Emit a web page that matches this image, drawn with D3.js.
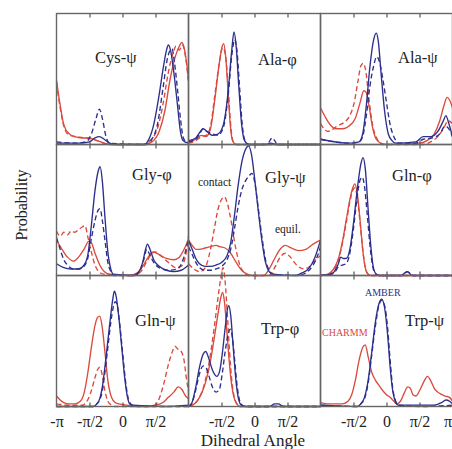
<!DOCTYPE html>
<html><head><meta charset="utf-8">
<script src="https://cdn.jsdelivr.net/npm/d3@7"></script>
<style>body{margin:0;background:#fff}svg{display:block}</style>
</head><body><div id="c"></div>
<script>
// ---- data (x: dihedral angle in degrees, y: relative probability) ----
const tickValues = [-180, -90, 0, 90, 180];
const tickLabels = ["-π", "-π/2", "0", "π/2", "π"];
const panelNames = ["Cys-ψ", "Ala-φ", "Ala-ψ", "Gly-φ", "Gly-ψ", "Gln-φ", "Gln-ψ", "Trp-φ", "Trp-ψ"];

const cysPsi_charmmEq = [[-180,0.49],[-170,0.3],[-160,0.15],[-145,0.08],[-130,0.06],[-110,0.05],[-90,0.05],[-70,0.03],[-50,0.01],[-30,0],[60,0],[80,0.02],[100,0.1],[115,0.25],[130,0.5],[145,0.68],[155,0.75],[162,0.78],[168,0.74],[175,0.62],[180,0.5]];
const cysPsi_charmmCt = [[-180,0.47],[-170,0.28],[-160,0.14],[-145,0.07],[-125,0.06],[-100,0.05],[-80,0.04],[-60,0.02],[-40,0],[55,0],[75,0.03],[95,0.12],[110,0.3],[125,0.55],[138,0.7],[146,0.75],[155,0.72],[163,0.76],[170,0.7],[176,0.58],[180,0.47]];
const cysPsi_amberEq = [[-180,0.01],[-120,0.01],[-90,0.02],[-75,0.05],[-63,0.06],[-50,0.04],[-35,0.01],[-20,0],[60,0],[70,0.03],[85,0.15],[100,0.38],[112,0.6],[120,0.72],[125,0.76],[131,0.72],[140,0.55],[150,0.3],[158,0.1],[165,0.03],[180,0.01]];
const cysPsi_amberCt = [[-180,0.02],[-130,0.01],[-100,0.02],[-85,0.08],[-72,0.2],[-63,0.27],[-55,0.2],[-45,0.06],[-35,0.01],[65,0],[80,0.04],[95,0.15],[110,0.42],[122,0.65],[130,0.72],[135,0.73],[142,0.62],[150,0.42],[158,0.2],[166,0.05],[175,0.02],[180,0.02]];

const alaPhi_charmmEq = [[-180,0.02],[-160,0.04],[-145,0.07],[-132,0.06],[-120,0.12],[-108,0.35],[-97,0.6],[-88,0.75],[-84,0.77],[-78,0.65],[-72,0.4],[-66,0.15],[-60,0.03],[-50,0],[180,0]];
const alaPhi_charmmCt = [[-180,0.01],[-160,0.03],[-145,0.06],[-132,0.07],[-120,0.14],[-108,0.38],[-96,0.62],[-87,0.74],[-82,0.72],[-76,0.6],[-70,0.35],[-64,0.12],[-58,0.02],[-50,0],[180,0]];
const alaPhi_amberEq = [[-180,0.03],[-160,0.05],[-150,0.09],[-140,0.12],[-130,0.1],[-115,0.07],[-100,0.08],[-85,0.15],[-72,0.4],[-62,0.72],[-56,0.86],[-50,0.75],[-43,0.45],[-35,0.15],[-27,0.03],[-15,0],[30,0],[45,0.01],[60,0],[180,0]];
const alaPhi_amberCt = [[-180,0.02],[-160,0.04],[-150,0.08],[-140,0.12],[-130,0.1],[-115,0.08],[-100,0.07],[-85,0.13],[-72,0.37],[-62,0.68],[-54,0.8],[-48,0.72],[-41,0.45],[-34,0.17],[-26,0.03],[-15,0],[35,0],[42,0.03],[48,0.05],[55,0.03],[62,0],[180,0]];

const alaPsi_charmmEq = [[-180,0.28],[-165,0.2],[-150,0.14],[-139,0.12],[-120,0.12],[-103,0.14],[-85,0.2],[-72,0.32],[-62,0.41],[-56,0.4],[-48,0.3],[-38,0.13],[-28,0.04],[-15,0.01],[0,0],[90,0.01],[110,0.03],[130,0.08],[145,0.18],[157,0.3],[165,0.36],[172,0.34],[180,0.28]];
const alaPsi_charmmCt = [[-180,0.16],[-170,0.12],[-160,0.1],[-150,0.11],[-135,0.14],[-115,0.17],[-100,0.22],[-88,0.32],[-78,0.48],[-70,0.6],[-63,0.62],[-56,0.55],[-48,0.35],[-38,0.15],[-25,0.04],[-10,0],[100,0],[120,0.02],[140,0.06],[155,0.12],[168,0.18],[180,0.16]];
const alaPsi_amberEq = [[-180,0.04],[-100,0.01],[-75,0.02],[-65,0.08],[-55,0.3],[-45,0.6],[-35,0.8],[-28,0.85],[-22,0.78],[-15,0.55],[-5,0.25],[5,0.08],[15,0.03],[25,0.01],[80,0.02],[100,0.06],[120,0.06],[140,0.1],[155,0.18],[162,0.22],[170,0.16],[180,0.06]];
const alaPsi_amberCt = [[-180,0.04],[-100,0.01],[-75,0.02],[-65,0.06],[-55,0.22],[-45,0.45],[-35,0.6],[-27,0.67],[-20,0.64],[-10,0.5],[0,0.32],[10,0.15],[20,0.06],[35,0.01],[80,0.01],[100,0.04],[125,0.05],[145,0.08],[160,0.14],[170,0.12],[180,0.06]];

const glyPhi_charmmEq = [[-180,0.27],[-165,0.2],[-150,0.14],[-134,0.11],[-120,0.14],[-105,0.2],[-92,0.26],[-85,0.25],[-75,0.17],[-62,0.08],[-50,0.03],[-35,0.01],[20,0],[40,0.02],[55,0.07],[70,0.14],[84,0.18],[100,0.16],[120,0.13],[140,0.12],[155,0.14],[168,0.2],[180,0.28]];
const glyPhi_charmmCt = [[-180,0.34],[-170,0.3],[-160,0.33],[-150,0.31],[-140,0.34],[-130,0.33],[-120,0.35],[-110,0.37],[-102,0.38],[-95,0.3],[-85,0.18],[-75,0.08],[-65,0.03],[-50,0.01],[30,0],[50,0.03],[65,0.1],[78,0.16],[89,0.18],[105,0.15],[125,0.1],[145,0.06],[160,0.07],[172,0.15],[180,0.3]];
const glyPhi_amberEq = [[-180,0.09],[-160,0.06],[-140,0.05],[-120,0.05],[-105,0.08],[-95,0.15],[-85,0.38],[-75,0.65],[-66,0.8],[-61,0.83],[-55,0.72],[-48,0.45],[-40,0.18],[-32,0.05],[-25,0.01],[30,0],[45,0.03],[55,0.1],[62,0.19],[68,0.24],[75,0.2],[85,0.12],[100,0.07],[120,0.04],[140,0.03],[160,0.04],[180,0.08]];
const glyPhi_amberCt = [[-180,0.29],[-170,0.2],[-160,0.12],[-150,0.08],[-134,0.05],[-120,0.05],[-105,0.07],[-95,0.13],[-85,0.28],[-75,0.42],[-66,0.5],[-61,0.51],[-55,0.42],[-47,0.25],[-40,0.1],[-32,0.03],[-25,0],[35,0],[48,0.04],[58,0.12],[66,0.2],[74,0.16],[85,0.1],[100,0.06],[125,0.04],[150,0.05],[165,0.12],[180,0.28]];

const glyPsi_charmmEq = [[-180,0.27],[-170,0.23],[-160,0.2],[-150,0.2],[-135,0.21],[-120,0.22],[-105,0.23],[-95,0.22],[-80,0.21],[-65,0.17],[-50,0.1],[-35,0.04],[-20,0.01],[-5,0],[25,0],[40,0.05],[55,0.13],[70,0.2],[84,0.23],[100,0.21],[120,0.19],[140,0.2],[160,0.24],[180,0.27]];
const glyPsi_charmmCt = [[-180,0.09],[-165,0.05],[-150,0.03],[-140,0.04],[-130,0.09],[-120,0.2],[-110,0.35],[-100,0.5],[-90,0.58],[-82,0.6],[-74,0.55],[-64,0.42],[-52,0.22],[-40,0.08],[-28,0.02],[-16,0],[40,0],[55,0.06],[70,0.14],[84,0.17],[98,0.14],[115,0.08],[135,0.05],[155,0.08],[170,0.13],[180,0.15]];
const glyPsi_amberEq = [[-180,0.27],[-170,0.2],[-160,0.13],[-150,0.09],[-135,0.07],[-120,0.07],[-105,0.08],[-90,0.1],[-75,0.15],[-65,0.25],[-55,0.45],[-45,0.68],[-35,0.86],[-25,0.96],[-16,0.99],[-8,0.92],[0,0.75],[10,0.5],[20,0.27],[30,0.1],[40,0.03],[50,0.01],[110,0],[130,0.02],[150,0.06],[165,0.14],[180,0.27]];
const glyPsi_amberCt = [[-180,0.22],[-170,0.16],[-160,0.1],[-150,0.06],[-135,0.04],[-120,0.04],[-105,0.05],[-90,0.07],[-75,0.12],[-65,0.2],[-55,0.35],[-45,0.52],[-35,0.65],[-25,0.72],[-15,0.76],[-7,0.78],[0,0.72],[10,0.52],[20,0.3],[30,0.12],[40,0.04],[50,0.01],[120,0],[140,0.02],[160,0.08],[172,0.15],[180,0.22]];

const glnPhi_charmmEq = [[-180,0],[-160,0.01],[-150,0.03],[-140,0.07],[-130,0.14],[-120,0.26],[-110,0.42],[-100,0.58],[-92,0.67],[-86,0.7],[-80,0.63],[-72,0.42],[-65,0.2],[-58,0.06],[-50,0.01],[-40,0],[180,0]];
const glnPhi_charmmCt = [[-180,0],[-160,0.01],[-150,0.02],[-140,0.06],[-130,0.13],[-120,0.25],[-110,0.4],[-100,0.56],[-92,0.65],[-86,0.67],[-80,0.6],[-72,0.4],[-64,0.18],[-57,0.05],[-50,0.01],[-40,0],[180,0]];
const glnPhi_amberEq = [[-180,0],[-150,0.01],[-140,0.04],[-130,0.1],[-125,0.14],[-118,0.13],[-110,0.13],[-100,0.2],[-90,0.4],[-80,0.65],[-70,0.85],[-64,0.9],[-58,0.82],[-50,0.5],[-42,0.2],[-35,0.05],[-28,0.01],[-20,0],[40,0],[50,0.02],[56,0.03],[62,0.02],[70,0],[180,0]];
const glnPhi_amberCt = [[-180,0],[-150,0.01],[-140,0.03],[-130,0.07],[-120,0.08],[-110,0.09],[-100,0.17],[-90,0.36],[-80,0.6],[-72,0.73],[-66,0.75],[-60,0.68],[-52,0.45],[-44,0.2],[-36,0.05],[-28,0.01],[-20,0],[45,0],[52,0.02],[58,0.03],[65,0.01],[75,0],[180,0]];

const glnPsi_charmmEq = [[-180,0.08],[-170,0.05],[-160,0.03],[-145,0.02],[-130,0.02],[-115,0.04],[-105,0.1],[-95,0.25],[-85,0.45],[-75,0.62],[-68,0.68],[-62,0.69],[-56,0.62],[-48,0.42],[-40,0.2],[-30,0.07],[-20,0.03],[-10,0.02],[10,0.01],[60,0],[90,0.01],[110,0.03],[125,0.07],[140,0.11],[152,0.15],[162,0.13],[172,0.08],[180,0.06]];
const glnPsi_charmmCt = [[-180,0.02],[-140,0.01],[-110,0.01],[-95,0.05],[-85,0.12],[-75,0.22],[-68,0.28],[-62,0.3],[-56,0.25],[-48,0.12],[-40,0.04],[-30,0.01],[-20,0],[80,0],[95,0.03],[105,0.1],[115,0.2],[125,0.32],[135,0.41],[143,0.46],[150,0.44],[160,0.42],[168,0.35],[175,0.2],[180,0.12]];
const glnPsi_amberEq = [[-180,0],[-80,0],[-70,0.02],[-62,0.06],[-55,0.15],[-48,0.3],[-40,0.5],[-32,0.7],[-26,0.83],[-22,0.88],[-18,0.85],[-10,0.68],[-2,0.45],[6,0.22],[13,0.08],[20,0.02],[30,0.01],[120,0],[180,0.01]];
const glnPsi_amberCt = [[-180,0],[-80,0],[-70,0.02],[-62,0.05],[-55,0.12],[-48,0.26],[-40,0.45],[-32,0.64],[-25,0.76],[-20,0.8],[-15,0.78],[-8,0.64],[0,0.42],[8,0.2],[15,0.07],[22,0.02],[30,0],[180,0]];

const trpPhi_charmmEq = [[-180,0],[-170,0.01],[-160,0.03],[-150,0.07],[-140,0.13],[-130,0.22],[-120,0.35],[-110,0.52],[-100,0.7],[-92,0.83],[-87,0.87],[-82,0.8],[-76,0.6],[-70,0.38],[-63,0.18],[-56,0.07],[-48,0.02],[-40,0],[180,0]];
const trpPhi_charmmCt = [[-180,0],[-170,0.01],[-160,0.03],[-150,0.07],[-140,0.14],[-130,0.25],[-120,0.4],[-110,0.6],[-100,0.82],[-92,0.98],[-86,1.06],[-80,0.95],[-74,0.7],[-68,0.42],[-62,0.2],[-55,0.07],[-48,0.02],[-40,0],[180,0]];
const trpPhi_amberEq = [[-180,0],[-172,0.02],[-160,0.15],[-150,0.3],[-140,0.4],[-133,0.42],[-125,0.37],[-115,0.28],[-103,0.23],[-95,0.27],[-88,0.4],[-80,0.6],[-74,0.74],[-70,0.77],[-65,0.7],[-58,0.45],[-50,0.18],[-43,0.05],[-36,0.01],[-25,0],[40,0],[55,0.02],[65,0.02],[80,0],[180,0]];
const trpPhi_amberCt = [[-180,0],[-170,0.03],[-160,0.13],[-150,0.25],[-140,0.31],[-133,0.3],[-125,0.24],[-115,0.15],[-105,0.11],[-96,0.13],[-88,0.25],[-80,0.42],[-72,0.55],[-66,0.59],[-60,0.52],[-54,0.35],[-47,0.15],[-40,0.04],[-33,0.01],[-25,0],[180,0]];

const trpPsi_charmmEq = [[-180,0.03],[-160,0.02],[-140,0.02],[-120,0.02],[-105,0.04],[-95,0.09],[-85,0.2],[-75,0.35],[-65,0.45],[-58,0.47],[-50,0.38],[-40,0.26],[-30,0.2],[-20,0.16],[-10,0.12],[0,0.09],[10,0.07],[20,0.04],[28,0.02],[38,0.04],[48,0.1],[58,0.15],[65,0.14],[72,0.09],[80,0.08],[90,0.12],[102,0.19],[112,0.23],[120,0.2],[132,0.13],[145,0.1],[160,0.08],[172,0.07],[180,0.04]];
const trpPsi_charmmCt = [];
const trpPsi_amberEq = [[-180,0.01],[-80,0],[-70,0.02],[-60,0.07],[-50,0.2],[-40,0.42],[-30,0.65],[-20,0.79],[-13,0.82],[-5,0.75],[3,0.55],[10,0.3],[17,0.12],[24,0.04],[32,0.01],[100,0.01],[130,0.01],[150,0.03],[162,0.05],[172,0.04],[180,0.02]];
const trpPsi_amberCt = [[-180,0.01],[-80,0],[-70,0.02],[-60,0.06],[-50,0.18],[-40,0.4],[-30,0.62],[-20,0.78],[-13,0.81],[-5,0.77],[3,0.6],[10,0.35],[17,0.14],[24,0.05],[32,0.01],[100,0],[180,0.01]];

// ---- table built from the arrays ----
const panels = [
  [cysPsi_charmmEq, cysPsi_charmmCt, cysPsi_amberEq, cysPsi_amberCt],
  [alaPhi_charmmEq, alaPhi_charmmCt, alaPhi_amberEq, alaPhi_amberCt],
  [alaPsi_charmmEq, alaPsi_charmmCt, alaPsi_amberEq, alaPsi_amberCt],
  [glyPhi_charmmEq, glyPhi_charmmCt, glyPhi_amberEq, glyPhi_amberCt],
  [glyPsi_charmmEq, glyPsi_charmmCt, glyPsi_amberEq, glyPsi_amberCt],
  [glnPhi_charmmEq, glnPhi_charmmCt, glnPhi_amberEq, glnPhi_amberCt],
  [glnPsi_charmmEq, glnPsi_charmmCt, glnPsi_amberEq, glnPsi_amberCt],
  [trpPhi_charmmEq, trpPhi_charmmCt, trpPhi_amberEq, trpPhi_amberCt],
  [trpPsi_charmmEq, trpPsi_charmmCt, trpPsi_amberEq, trpPsi_amberCt]
].map((s, i) => ({ name: panelNames[i], series: s }));

// ---- layout ----
const RED = "#da4a3e", BLUE = "#2c2f8c";
const styles = [
  { color: RED, dash: null },
  { color: RED, dash: "5,3" },
  { color: BLUE, dash: null },
  { color: BLUE, dash: "5,3" }
];
const W = 132, H = 131;
const colX = [56.5, 188.5, 320.5];
const rowY = [13.5, 144.5, 275.5];
const labelPos = [[95,63],[258,65],[398,63],[132,180],[265,183],[392,181],[135,326],[261,334],[405,326]];
const FONT = "'Liberation Serif','Times New Roman',serif";

const svg = d3.select("#c").append("svg").attr("width", 452).attr("height", 449);
const x = d3.scaleLinear().domain([-180, 180]).range([0, W]);
const y = d3.scaleLinear().domain([0, 1]).range([H, 0]);
const line = d3.line().x(d => x(d[0])).y(d => y(d[1])).curve(d3.curveMonotoneX);

panels.forEach((p, i) => {
  const c = i % 3, r = Math.floor(i / 3);
  const g = svg.append("g").attr("transform", `translate(${colX[c]},${rowY[r]})`);
  g.selectAll("path.s").data(p.series).join("path")
    .attr("class", "s")
    .attr("d", d => d.length ? line(d) : null)
    .attr("fill", "none")
    .attr("stroke", (d, k) => styles[k].color)
    .attr("stroke-width", 1.35)
    .attr("stroke-dasharray", (d, k) => styles[k].dash);
  // inward ticks
  const bAx = g.append("g").attr("transform", `translate(0,${H})`)
    .call(d3.axisBottom(x).tickValues([-90, 0, 90]).tickSize(-4).tickFormat(""));
  const tAx = g.append("g")
    .call(d3.axisTop(x).tickValues([-90, 0, 90]).tickSize(-4).tickFormat(""));
  [bAx, tAx].forEach(a => { a.select(".domain").remove(); a.selectAll("line").attr("stroke", "#555").attr("stroke-width", 1.2); });
  g.append("rect").attr("width", W).attr("height", H)
    .attr("fill", "none").attr("stroke", "#666").attr("stroke-width", 1.4);
  svg.append("text").attr("x", labelPos[i][0]).attr("y", labelPos[i][1])
    .attr("font-family", FONT).attr("font-size", 16.5).attr("fill", "#222").text(p.name);
});

// bottom tick labels
const labelTicks = [[-180, -90, 0, 90], [-90, 0, 90], [-90, 0, 90, 180]];
labelTicks.forEach((tv, c) => {
  const a = svg.append("g").attr("transform", `translate(${colX[c]},${rowY[2] + H + 6})`)
    .call(d3.axisBottom(x).tickValues(tv).tickSize(0)
      .tickFormat(v => tickLabels[tickValues.indexOf(v)]));
  a.select(".domain").remove();
  a.selectAll("text").attr("font-family", FONT).attr("font-size", 16).attr("fill", "#222");
  // keep the last label inside the page
  a.selectAll(".tick").filter(v => v === 180).select("text")
    .attr("text-anchor", "end").attr("x", -1);
});

// annotations
const ann = [
  { t: "contact", x: 198, y: 186, c: "#222", s: 11.5 },
  { t: "equil.", x: 275, y: 233, c: "#222", s: 11.5 },
  { t: "AMBER", x: 365, y: 296, c: BLUE, s: 10 },
  { t: "CHARMM", x: 322, y: 336, c: RED, s: 10 }
];
svg.selectAll("text.ann").data(ann).join("text").attr("class", "ann")
  .attr("x", d => d.x).attr("y", d => d.y).attr("fill", d => d.c)
  .attr("font-family", FONT).attr("font-size", d => d.s).text(d => d.t);

svg.append("text").attr("x", 253).attr("y", 446).attr("text-anchor", "middle")
  .attr("font-family", FONT).attr("font-size", 17).attr("fill", "#222").text("Dihedral Angle");
svg.append("text").attr("transform", "translate(27,205) rotate(-90)").attr("text-anchor", "middle")
  .attr("font-family", FONT).attr("font-size", 16).attr("fill", "#222").text("Probability");
</script></body></html>
